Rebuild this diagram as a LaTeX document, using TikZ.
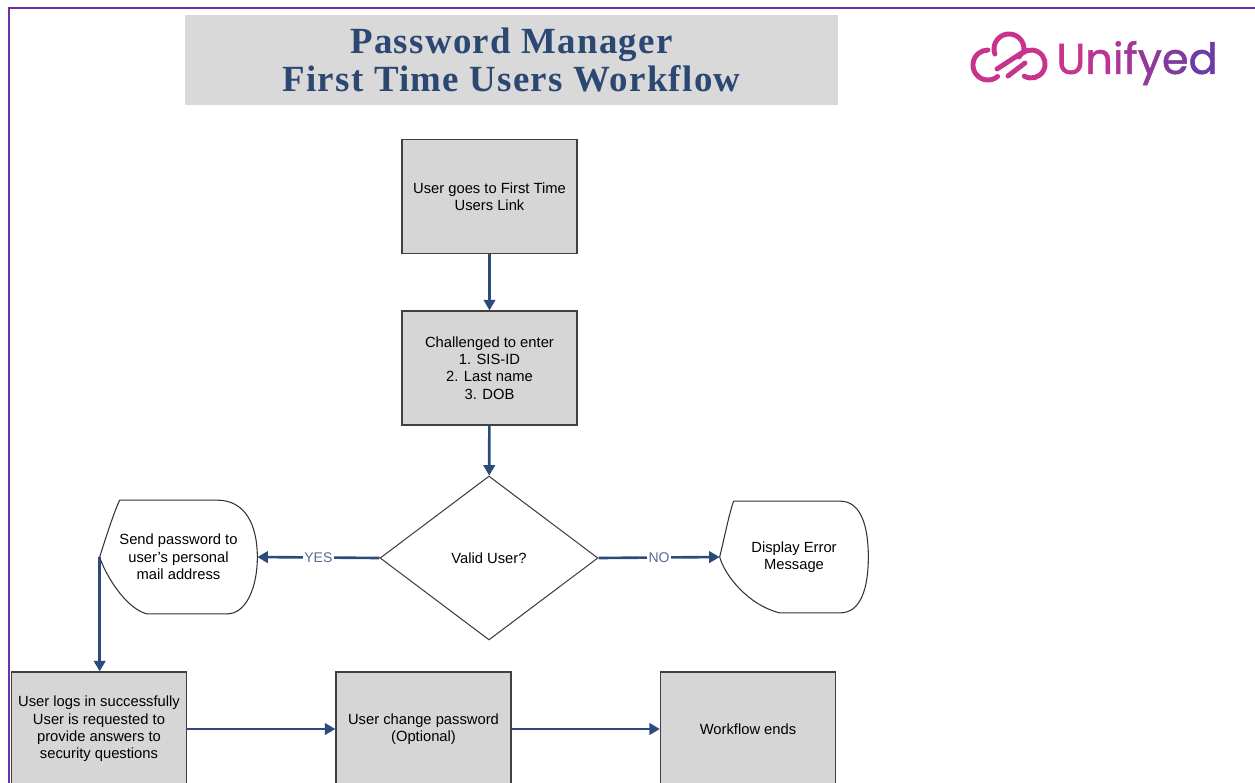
\documentclass[tikz,border=0pt]{standalone}
\usepackage{fontspec}
\setmainfont{Liberation Sans}
\newfontfamily\titlefont{Liberation Serif}[LetterSpace=3.5]
\newfontfamily\logofont{Poppins}[FakeBold=1.2]
\usepackage{xcolor}
\usetikzlibrary{calc}
\usetikzlibrary{arrows.meta,shapes.geometric}

\definecolor{framepurple}{HTML}{7030A0}
\definecolor{titleblue}{HTML}{2B4772}
\definecolor{titlegray}{HTML}{D9D9D9}
\definecolor{boxgray}{HTML}{D6D6D6}
\definecolor{flowblue}{HTML}{2C4B7B}
\definecolor{logopink}{HTML}{C8338E}
\definecolor{logopurple}{HTML}{6B3CA3}

\begin{document}
\begin{tikzpicture}[x=0.02cm,y=-0.02cm,
  boxfont/.style={font=\fontsize{8.4}{9.9}\selectfont},
  stepbox/.style={rectangle,draw=black!75,line width=0.7pt,fill=boxgray,
    minimum width=3.5cm,minimum height=2.28cm,align=center,inner sep=2pt,boxfont},
  decision/.style={diamond,draw=black!75,line width=0.6pt,fill=white,
    minimum width=4.36cm,minimum height=3.28cm,inner sep=0pt,align=center,boxfont},
  dispbox/.style={rectangle,inner sep=0pt,align=center,boxfont},
  displine/.style={draw=black!80,line width=0.6pt},
  flow/.style={draw=flowblue,line width=1.5pt,-{Triangle[length=6pt,width=6.5pt]}},
  answer/.style={fill=white,text=flowblue!80,inner sep=1pt,font=\fontsize{8}{9}\selectfont}]
\useasboundingbox (0,0) rectangle (1255,782);
\clip (0,0) rectangle (1255,782);

% Frame
\draw[framepurple,line width=1.6pt] (1260,8) -- (9,8) -- (9,790);

% Title
\node[fill=titlegray,minimum width=13.06cm,minimum height=1.8cm,align=center,text=titleblue,
  font=\titlefont\bfseries\fontsize{21}{21.5}\selectfont] (title) at (511.5,60)
  {Password Manager\\First Time Users Workflow};

% Logo
\begin{scope}[shift={(1012,62)},y=0.02cm,logopink,line width=2.8pt,line cap=round]
\draw (-14.4,-14.5) arc[start angle=-50,end angle=-270,radius=15];
\draw (-17.1,7.9) arc[start angle=200,end angle=-10,radius=15] -- (-15,-7);
\draw (7,5) arc[start angle=150,end angle=-120,radius=14];
\draw (-4,-14) -- (13,-1);
\end{scope}
\node[font=\logofont\fontsize{24.5}{25}\selectfont,anchor=west,inner sep=0pt] (logo) at (1056,63)
  {\textcolor{logopink}{U}\textcolor{logopink!86!logopurple}{n}\textcolor{logopink!72!logopurple}{i}%
   \textcolor{logopink!58!logopurple}{f}\textcolor{logopink!42!logopurple}{y}%
   \textcolor{logopink!24!logopurple}{e}\textcolor{logopurple}{d}};

% Steps
\node[stepbox] (link) at (489.5,196.5) {User goes to First Time\\Users Link};
\node[stepbox] (challenge) at (489.5,368) {Challenged to enter\\1. SIS-ID\\2. Last name\\3. DOB};
\node[decision] (valid) at (489,558) {Valid User?};

% Display shapes
\node[dispbox,minimum width=3.14cm,minimum height=2.26cm] (send) at (178.5,557)
  {Send password to\\user's personal\\mail address};
\draw[displine] ($(send.north west)+(20,0)$) -- ($(send.north east)+(-40,0)$)
  .. controls +(28,0) and +(0,-32) .. (send.east)
  .. controls +(0,32) and +(18,0) .. ($(send.south east)+(-30,0)$)
  -- ($(send.south west)+(47,0)$)
  .. controls +(-22,-6) and +(5,16) .. (send.west)
  .. controls +(5,-16) and +(-5,10) .. ($(send.north west)+(20,0)$);

\node[dispbox,minimum width=2.96cm,minimum height=2.22cm] (error) at (794,557)
  {Display Error\\Message};
\draw[displine] ($(error.north west)+(14,0)$) -- ($(error.north east)+(-28,0)$)
  .. controls +(20,0) and +(0,-32) .. (error.east)
  .. controls +(0,32) and +(20,0) .. ($(error.south east)+(-28,0)$)
  -- ($(error.south west)+(60,0)$)
  .. controls +(-32,-8) and +(5,18) .. (error.west)
  .. controls +(4,-16) and +(-4,10) .. ($(error.north west)+(14,0)$);

% Bottom row
\node[stepbox] (login) at (99,729) {User logs in successfully\\User is requested to\\provide answers to\\security questions};
\node[stepbox] (change) at (423.5,729) {User change password\\(Optional)};
\node[stepbox] (ends) at (748,729) {Workflow ends};

% Connectors
\draw[flow] (link) -- (challenge);
\draw[flow] (challenge) -- (valid);
\draw[flow] (valid.west) -- node[answer] {YES} (send.east);
\draw[flow] (valid.east) -- node[answer] {NO} (error.west);
\draw[flow] (send.west) -- (send.west |- login.north);
\draw[flow] (login) -- (change);
\draw[flow] (change) -- (ends);
\end{tikzpicture}
\end{document}
